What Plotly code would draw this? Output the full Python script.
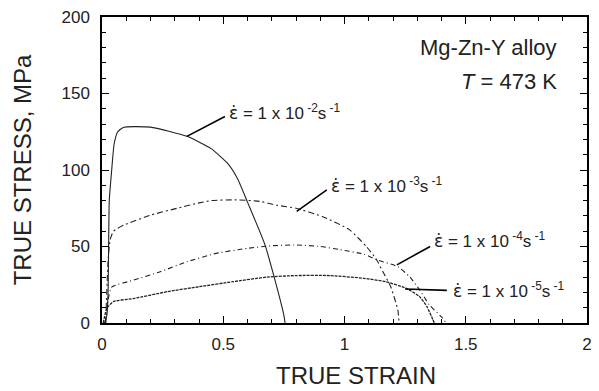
import plotly.graph_objects as go

# Data
strain_e2 = [0.01, 0.02, 0.025, 0.03, 0.04, 0.05, 0.065, 0.09, 0.2, 0.35, 0.45, 0.52, 0.56, 0.6, 0.67, 0.71, 0.75, 0.755]
stress_e2 = [0, 5, 20, 80, 100, 117, 125, 128, 128, 122, 114, 104, 94, 79, 52, 30, 5, 0]

strain_e3 = [0.015, 0.025, 0.033, 0.047, 0.09, 0.2, 0.31, 0.4, 0.45, 0.55, 0.65, 0.72, 0.8, 0.91, 1.02, 1.09, 1.13, 1.16, 1.19, 1.22, 1.225]
stress_e3 = [0, 40, 54, 60, 64, 70.5, 75, 78.5, 80, 80.5, 79.5, 77, 75, 69.5, 61, 50, 42, 33, 24, 8.5, 0]

strain_e4 = [0.015, 0.025, 0.04, 0.13, 0.24, 0.35, 0.47, 0.6, 0.7, 0.8, 0.9, 0.98, 1.08, 1.13, 1.22, 1.27, 1.31, 1.35, 1.4, 1.42]
stress_e4 = [0, 15, 23.5, 28, 33.5, 40, 45.5, 48.8, 50.5, 51, 50, 48, 45, 41.5, 36.8, 30, 21.6, 11.8, 4, 0]

strain_e5 = [0.005, 0.02, 0.047, 0.13, 0.27, 0.4, 0.54, 0.68, 0.8, 0.94, 1.08, 1.17, 1.255, 1.31, 1.34, 1.365, 1.37]
stress_e5 = [0, 9.6, 14, 16, 20.5, 23.7, 27, 30, 31, 31, 29.2, 27, 22.7, 17.2, 10.7, 2, 0]

rate_exponents = ["-2", "-3", "-4", "-5"]
x_tick_vals = [0, 0.5, 1, 1.5, 2]
x_tick_text = ["0", "0.5", "1", "1.5", "2"]
y_tick_vals = [0, 50, 100, 150, 200]

FONT = "Liberation Sans, Arial, sans-serif"
INK = "#222222"
EPS = '<span style="font-family:DejaVu Sans">ε̇</span>'
labels = [f"{EPS} = 1 x 10<sup> {e}</sup>s<sup> -1</sup>" for e in rate_exponents]

fig = go.Figure()
fig.add_trace(go.Scatter(x=strain_e2, y=stress_e2, mode="lines",
                         line=dict(color=INK, width=1.1, shape="spline", smoothing=0.5), showlegend=False))
fig.add_trace(go.Scatter(x=strain_e3, y=stress_e3, mode="lines",
                         line=dict(color=INK, width=1.1, dash="6px,3px,2px,3px", shape="spline", smoothing=0.5),
                         showlegend=False))
fig.add_trace(go.Scatter(x=strain_e4, y=stress_e4, mode="lines",
                         line=dict(color=INK, width=1.1, dash="5px,3px,1px,3px", shape="spline", smoothing=0.5),
                         showlegend=False))
fig.add_trace(go.Scatter(x=strain_e5, y=stress_e5, mode="lines",
                         line=dict(color=INK, width=1.3, dash="3px,1px", shape="spline", smoothing=0.5),
                         showlegend=False))

# leader lines (data coords) and label positions
leaders = [((0.35, 122), (0.507, 135)),
           ((0.803, 73), (0.927, 87)),
           ((1.216, 38), (1.353, 50)),
           ((1.25, 22.2), (1.422, 21.3))]
label_pos = [(0.52, 138), (0.94, 90.4), (1.366, 54.4), (1.444, 21.8)]

for (p0, p1) in leaders:
    fig.add_shape(type="line", x0=p0[0], y0=p0[1], x1=p1[0], y1=p1[1],
                  xref="x", yref="y", line=dict(color="black", width=1.6))
for txt, (lx, ly) in zip(labels, label_pos):
    fig.add_annotation(x=lx, y=ly, text=txt, showarrow=False, xanchor="left", yanchor="middle",
                       font=dict(family=FONT, size=17, color=INK), borderpad=0)

fig.add_annotation(x=1.88, y=180, text="Mg-Zn-Y alloy", showarrow=False, xanchor="right",
                   yanchor="middle", font=dict(family=FONT, size=22, color=INK), borderpad=0)
fig.add_annotation(x=1.88, y=157.7, text="<i>T</i> = 473 K", showarrow=False, xanchor="right",
                   yanchor="middle", font=dict(family=FONT, size=22, color=INK), borderpad=0)

# x-axis title (slightly right of centre, as in the reference)
fig.add_annotation(x=0.524, y=-0.17, xref="paper", yref="paper", text="TRUE STRAIN",
                   showarrow=False, xanchor="center", yanchor="middle",
                   font=dict(family=FONT, size=24, color=INK), borderpad=0)

axis_common = dict(showgrid=False, zeroline=False, showline=True, linecolor="black", linewidth=1.5,
                   mirror="allticks", ticks="inside", ticklen=7, tickwidth=1, tickcolor="black",
                   automargin=False, ticklabeloverflow="allow",
                   tickfont=dict(family=FONT, size=17, color=INK))
fig.update_xaxes(range=[0, 2], tickvals=x_tick_vals, ticktext=x_tick_text, ticklabelstandoff=5,
                 minor=dict(ticks="inside", ticklen=4, dtick=0.1, tickcolor="black", tickwidth=1),
                 **axis_common)
fig.update_yaxes(range=[0, 200], tickvals=y_tick_vals, ticklabelstandoff=7,
                 minor=dict(ticks="inside", ticklen=4, dtick=10, tickcolor="black", tickwidth=1),
                 title=dict(text="TRUE STRESS, MPa", font=dict(family=FONT, size=24, color=INK), standoff=23),
                 **axis_common)

fig.update_layout(width=599, height=391, margin=dict(l=94, r=20, t=9, b=76),
                  plot_bgcolor="white", paper_bgcolor="white")
fig.write_html("out.html")
